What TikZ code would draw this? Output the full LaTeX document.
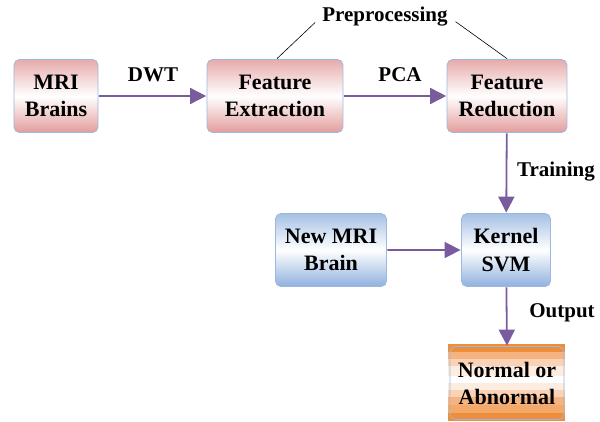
\documentclass[tikz,border=0pt]{standalone}
\usepackage{fontspec}
\setmainfont{Liberation Serif}
\newfontfamily\diagfont{Liberation Serif}
\usetikzlibrary{arrows.meta}
\usetikzlibrary{calc}

\definecolor{boxedge}{HTML}{9DB8E0}
\definecolor{redfill}{HTML}{E39C9C}
\definecolor{bluefill}{HTML}{8FB1DE}
\definecolor{flowline}{HTML}{7A5C9E}
\definecolor{orangedark}{HTML}{EF8E3A}
\definecolor{orangemid}{HTML}{F5B47F}
\definecolor{orangelight}{HTML}{FAD3B6}
\definecolor{orangepale}{HTML}{FDEDE1}

\tikzset{
  procbox/.style={draw=boxedge, line width=0.8pt, rounded corners=5.5pt, align=center,
    scale=2.2, minimum height=33.2pt, inner sep=1pt,
    font=\diagfont\bfseries\fontsize{10}{12.3}\selectfont},
  redbox/.style={procbox, top color=redfill!85, bottom color=redfill, middle color=white},
  bluebox/.style={procbox, top color=bluefill!80, bottom color=bluefill, middle color=white},
  flow/.style={draw=flowline, line width=1.8pt,
    arrows={-Triangle[length=16pt, width=16pt, fill=flowline]}},
  steplabel/.style={scale=2.1, font=\diagfont\bfseries, inner sep=0.5pt},
}

\begin{document}
\begin{tikzpicture}[x=1pt, y=-1pt]
    \useasboundingbox (0,0) rectangle (600,421);
    % Output box stripes
    \foreach \ya/\yb/\col in {344/352/orangedark, 352/359/orangemid, 359/366/orangelight,
        366/376/orangepale, 376/383/white, 383/390/orangepale, 390/397/orangelight,
        397/405/orangemid, 405/413/orangemid!70!orangedark, 413/421/orangedark}
        \fill[\col] (448,\ya) rectangle (565,\yb);
    % Boxes
    \node[redbox, minimum width=38.2pt] (mri) at (56,96) {MRI\\Brains};
    \node[redbox, minimum width=61.8pt] (fext) at (275,96) {Feature\\Extraction};
    \node[redbox, minimum width=54.5pt] (fred) at (507,96) {Feature\\Reduction};
    \node[bluebox, minimum width=40.5pt] (svm) at (506,250) {Kernel\\SVM};
    \node[bluebox, minimum width=50.5pt] (newmri) at (331,250) {New MRI\\Brain};
    \node[procbox, minimum width=51.8pt] (result) at (507,383) {Normal or\\Abnormal};
    % Arrows
    \draw[flow] (mri) -- (fext);
    \draw[flow] (fext) -- (fred);
    \draw[flow] (fred) -- (svm);
    \draw[flow] (newmri) -- (svm);
    \draw[flow] (svm) -- (result.north);
    \node[steplabel] (dwt) at (153,75) {DWT};
    \node[steplabel] (pca) at (400,75) {PCA};
    \node[steplabel] (train) at (556,172) {Training};
    \node[steplabel] (out) at (562,313) {Output};
    % Preprocessing
    \node[steplabel] (pre) at (385,17) {Preprocessing};
    \draw[line width=0.6pt, shorten >=8pt] ($(fext.north)+(2,0)$) -- (pre.west);
    \draw[line width=0.6pt, shorten >=8pt] (fred.north) -- (pre.east);
\end{tikzpicture}
\end{document}
